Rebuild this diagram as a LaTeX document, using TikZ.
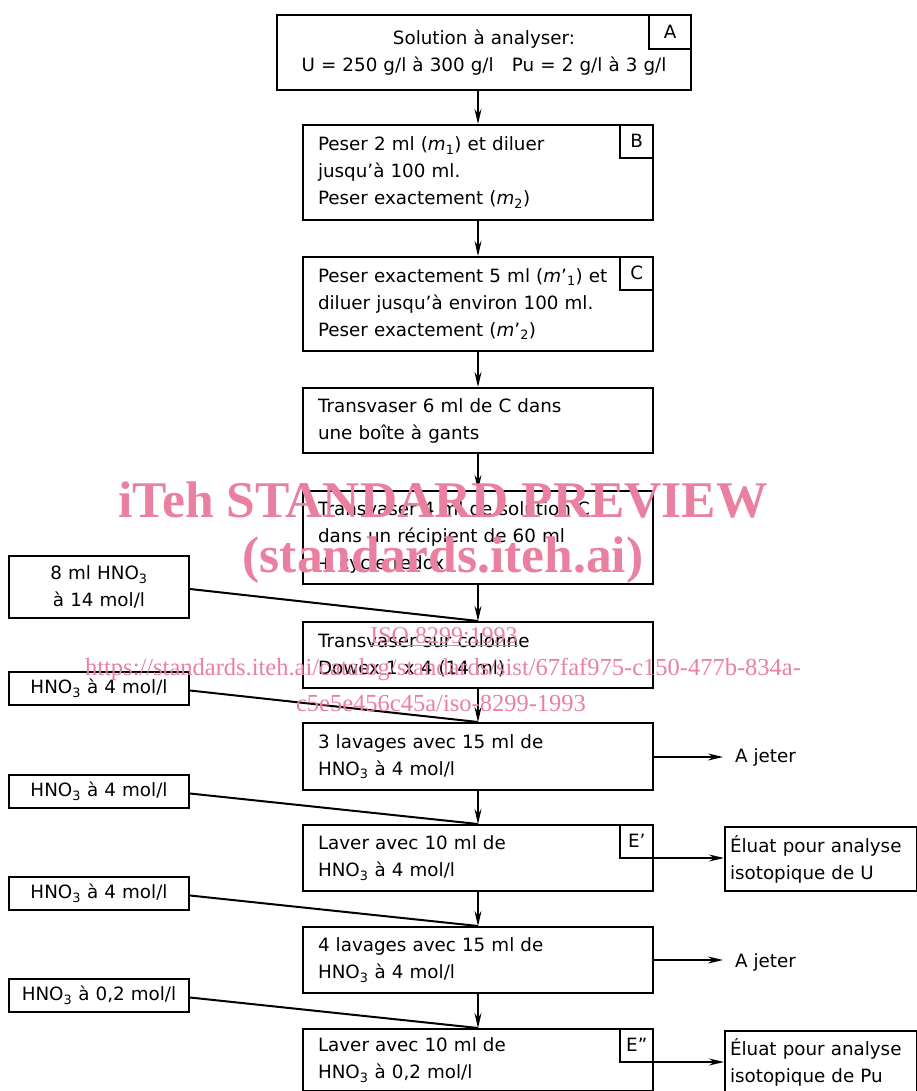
\documentclass[tikz,border=0pt]{standalone}
\usepackage{fontspec}
\setmainfont{DejaVu Sans}
\newfontfamily\wmfont{Liberation Serif}
\usetikzlibrary{arrows.meta,calc}
\definecolor{wm}{RGB}{234,128,160}
\tikzset{
  x=1pt,y=-1pt,
  txt/.style={font=\fontsize{18.3}{27}\selectfont},
  box/.style={draw,line width=2pt,inner xsep=15pt,inner ysep=0pt,align=left,anchor=north west,txt},
  mainbox/.style={box,minimum width=350pt,text width=320pt},
  leftbox/.style={box,minimum width=180pt,text width=166pt,inner xsep=7pt,align=center},
  rightbox/.style={box,minimum width=192pt,text width=182pt,inner xsep=5pt},
  tag/.style={draw,line width=1.6pt,anchor=north east,inner sep=0pt,minimum width=33pt,minimum height=33pt,txt},
  flow/.style={line width=1.6pt,-{Stealth[length=15pt,width=7pt]}},
  feed/.style={line width=2pt},
  wmbig/.style={text=wm,font=\wmfont\bfseries\fontsize{51.5}{51.5}\selectfont,inner sep=0pt},
  wmsmall/.style={text=wm,font=\wmfont\fontsize{23.5}{23.5}\selectfont,inner sep=0pt}
}
\begin{document}
\begin{tikzpicture}
\useasboundingbox (0,0) rectangle (917,1091);
% main column
\node[box,minimum width=414pt,text width=404pt,inner xsep=5pt,align=center,minimum height=75pt] (A) at (276,14) {Solution à analyser:\\U = 250 g/l à 300 g/l\quad Pu = 2 g/l à 3 g/l};
\node[tag,minimum width=42pt,minimum height=34pt] (tA) at (A.north east) {A};
\node[mainbox,minimum height=95pt] (B) at (302,124) {Peser 2 ml (\textit{m}\textsubscript{1}) et diluer\\jusqu'à 100 ml.\\Peser exactement (\textit{m}\textsubscript{2})};
\node[tag] (tB) at (B.north east) {B};
\node[mainbox,minimum height=94pt] (C) at (302,256) {Peser exactement 5 ml (\textit{m}'\textsubscript{1}) et\\diluer jusqu'à environ 100 ml.\\Peser exactement (\textit{m}'\textsubscript{2})};
\node[tag] (tC) at (C.north east) {C};
\node[mainbox,minimum height=65pt] (D) at (302,387) {Transvaser 6 ml de C dans\\une boîte à gants};
\node[mainbox,minimum height=93pt] (E) at (302,490) {Transvaser 4 ml de solution C\\dans un récipient de 60 ml\\+ cycle redox};
\node[mainbox,minimum height=66pt] (F) at (302,621) {Transvaser sur colonne\\Dowex 1 x 4 (14 ml)};
\node[mainbox,minimum height=67pt] (G) at (302,722) {3 lavages avec 15 ml de\\HNO\textsubscript{3} à 4 mol/l};
\node[mainbox,minimum height=66pt] (H) at (302,824) {Laver avec 10 ml de\\HNO\textsubscript{3} à 4 mol/l};
\node[tag] (tH) at (H.north east) {E'};
\node[mainbox,minimum height=66pt] (I) at (302,926) {4 lavages avec 15 ml de\\HNO\textsubscript{3} à 4 mol/l};
\node[mainbox,minimum height=62pt] (J) at (302,1028) {Laver avec 10 ml de\\HNO\textsubscript{3} à 0,2 mol/l};
\node[tag] (tJ) at (J.north east) {E''};
% left feeds
\node[leftbox,minimum height=62pt] (L1) at (8,555) {8 ml HNO\textsubscript{3}\\à 14 mol/l};
\node[leftbox,minimum height=33pt] (L2) at (8,671) {HNO\textsubscript{3} à 4 mol/l};
\node[leftbox,minimum height=33pt] (L3) at (8,774) {HNO\textsubscript{3} à 4 mol/l};
\node[leftbox,minimum height=33pt] (L4) at (8,876) {HNO\textsubscript{3} à 4 mol/l};
\node[leftbox,minimum height=33pt] (L5) at (8,978) {HNO\textsubscript{3} à 0,2 mol/l};
% right outputs
\node[txt,anchor=west,inner sep=0pt] (R1) at (735,757) {A jeter};
\node[rightbox,minimum height=64pt] (R2) at (724,826) {Éluat pour analyse\\isotopique de U};
\node[txt,anchor=west,inner sep=0pt] (R3) at (735,962) {A jeter};
\node[rightbox,minimum height=62pt] (R4) at (724,1030) {Éluat pour analyse\\isotopique de Pu};
% connectors
\draw[flow] (B.north |- A.south) -- (B.north);
\draw[flow] (B) -- (C);
\draw[flow] (C) -- (D);
\draw[flow] (D) -- (E);
\draw[flow] (E) -- (F);
\draw[flow] (F) -- (G);
\draw[flow] (G) -- (H);
\draw[flow] (H) -- (I);
\draw[flow] (I) -- (J);
\draw[feed] ($(L1.east)+(0,2)$) -- (F.north);
\draw[feed] ($(L2.east)+(0,2)$) -- (G.north);
\draw[feed] ($(L3.east)+(0,2)$) -- (H.north);
\draw[feed] ($(L4.east)+(0,2)$) -- (I.north);
\draw[feed] ($(L5.east)+(0,2)$) -- (J.north);
\draw[flow] ($(G.east)+(0,0.5)$) coordinate (gx) -- ($(gx -| R1.west)+(-12,0)$);
\draw[flow] (H.east) -- (H.east -| R2.west);
\draw[flow] (I.east) -- ($(I.east -| R3.west)+(-12,0)$);
\draw[flow] ($(J.north east)+(0,34)$) coordinate (jx) -- (jx -| R4.west);
% watermark
\node[wmbig] (w1) at (443,500) {iTeh STANDARD PREVIEW};
\node[wmbig] (w2) at (443,560) {(standards.iteh.ai)};
\node[wmsmall,font=\wmfont\fontsize{24}{24}\selectfont] (w3) at (444,637) {\underline{ISO 8299:1993}};
\node[wmsmall,font=\wmfont\fontsize{24.5}{24.5}\selectfont] (w4) at (443,670) {https://standards.iteh.ai/catalog/standards/sist/67faf975-c150-477b-834a-};
\node[wmsmall,font=\wmfont\fontsize{24.5}{24.5}\selectfont] (w5) at (441,703) {c5e5e456c45a/iso-8299-1993};
\end{tikzpicture}
\end{document}
